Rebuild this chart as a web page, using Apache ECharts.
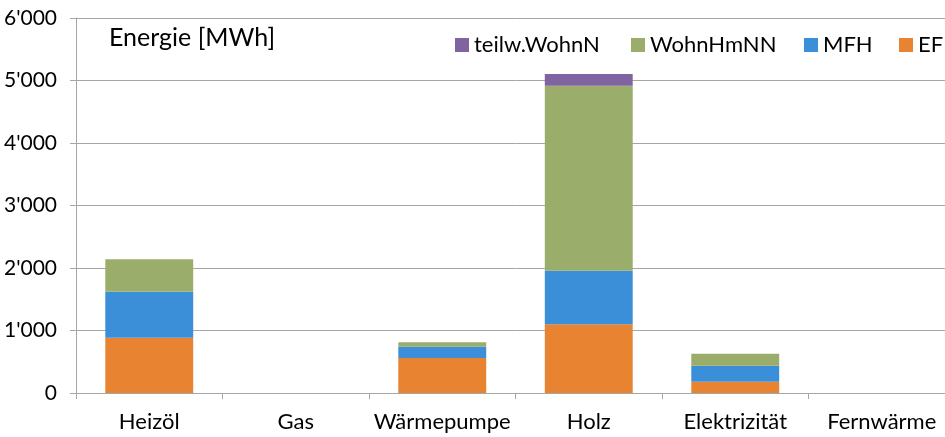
<!DOCTYPE html>
<html>
<head>
<meta charset="utf-8">
<script src="https://cdn.jsdelivr.net/npm/echarts@6/dist/echarts.min.js"></script>
<style>
  html, body { margin: 0; padding: 0; background: #fff; overflow: hidden; }
  #main { width: 955px; height: 437px; }
</style>
</head>
<body>
<div id="main"></div>
<script>
var categories = ['Heizöl', 'Gas', 'Wärmepumpe', 'Holz', 'Elektrizität', 'Fernwärme'];
var efh = [885, 0, 560, 1100, 180, 0];
var mfh = [736, 0, 181, 857, 256, 0];
var wohnHmNN = [518, 0, 70, 2960, 192, 0];
var teilwWohnN = [0, 0, 0, 187, 0, 0];
var legendOrder = ['teilw.WohnN', 'WohnHmNN', 'MFH', 'EFH'];

var chartDom = document.getElementById('main');
var myChart = echarts.init(chartDom);
var option;

var font = 'Lato';
var legendLeft = [450, 626, 799, 894];

function thousands(v) {
    return String(v).replace(/\B(?=(\d{3})+(?!\d))/g, "'");
}

var legends = legendOrder.map(function (name, i) {
    return {
        data: [name],
        left: legendLeft[i],
        top: 29,
        itemWidth: 14,
        itemHeight: 14,
        icon: 'rect',
        textStyle: { fontFamily: font, fontSize: 22, color: '#000' }
    };
});

option = {
    animation: false,
    textStyle: { fontFamily: font },
    title: {
        text: 'Energie [MWh]',
        left: 104,
        top: 20,
        textStyle: { fontFamily: font, fontSize: 25, fontWeight: 'normal', color: '#000' }
    },
    legend: legends,
    grid: {
        left: 76,
        top: 18,
        right: 0,
        bottom: 44
    },
    xAxis: {
        type: 'category',
        data: categories,
        axisLine: { lineStyle: { color: '#a6a6a6', width: 1 } },
        axisTick: { show: true, length: 6, lineStyle: { color: '#a6a6a6' } },
        axisLabel: { interval: 0, fontFamily: font, fontSize: 22, color: '#000', margin: 18 }
    },
    yAxis: {
        type: 'value',
        min: 0,
        max: 6000,
        interval: 1000,
        axisLine: { show: true, lineStyle: { color: '#a6a6a6' } },
        axisTick: { show: true, length: 6, lineStyle: { color: '#a6a6a6' } },
        splitLine: { lineStyle: { color: '#a6a6a6' } },
        axisLabel: { fontFamily: font, fontSize: 21, color: '#000', margin: 19, formatter: thousands }
    },
    series: [
        {
            name: 'EFH',
            type: 'bar',
            stack: 'e',
            barCategoryGap: '40%',
            itemStyle: { color: '#e88331' },
            data: efh
        },
        {
            name: 'MFH',
            type: 'bar',
            stack: 'e',
            itemStyle: { color: '#3b8fd9' },
            data: mfh
        },
        {
            name: 'WohnHmNN',
            type: 'bar',
            stack: 'e',
            itemStyle: { color: '#9bad6b' },
            data: wohnHmNN
        },
        {
            name: 'teilw.WohnN',
            type: 'bar',
            stack: 'e',
            itemStyle: { color: '#8064a2' },
            data: teilwWohnN
        }
    ]
};

option && myChart.setOption(option);
</script>
</body>
</html>
